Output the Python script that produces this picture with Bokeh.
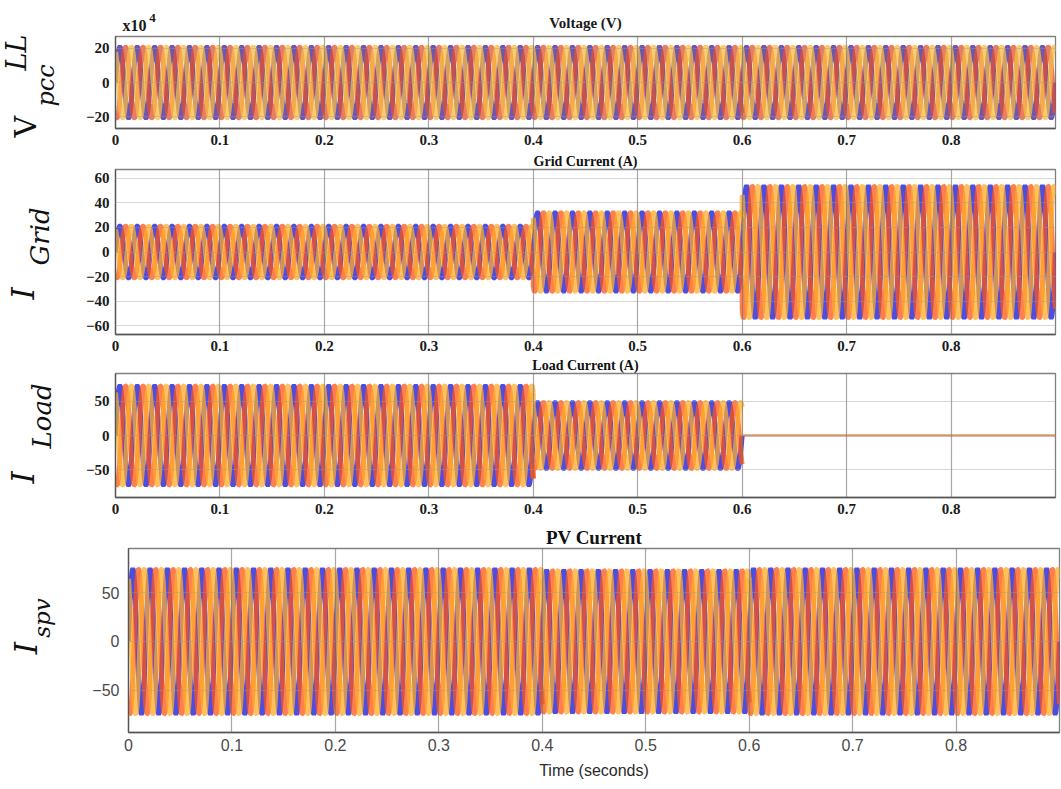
import numpy as np
from bokeh.plotting import figure
from bokeh.layouts import row, column
from bokeh.models import Range1d, FixedTicker, CustomJSTickFormatter, ColumnDataSource
from bokeh.core.properties import value
from bokeh.embed import file_html
from bokeh.resources import INLINE

# ---------------- data ----------------
FREQ_HZ = 60.0                      # supply frequency
T_END = 0.9                         # simulated time (s)
STEP_TIMES = [0.0, 0.4, 0.6, 0.9]   # load switching instants (s)
PHASE_DEG = [0.0, -120.0, 120.0]    # phase a, b, c

# peak value of each phase in each interval between STEP_TIMES
vpcc_amp = [20.8, 20.8, 20.8]       # x10^4 V (line-to-line)
igrid_amp = [21.0, 32.0, 53.5]      # A
iload_amp = [72.0, 48.0, 0.0]       # A
ispv_amp = [74.0, 72.5, 74.0]       # A

x_ticks = [0.0, 0.1, 0.2, 0.3, 0.4, 0.5, 0.6, 0.7, 0.8]
vpcc_ticks = [-20, 0, 20]
igrid_ticks = [-60, -40, -20, 0, 20, 40, 60]
iload_ticks = [-50, 0, 50]
ispv_ticks = [-50, 0, 50]

titles = ["Voltage (V)", "Grid Current (A)", "Load Current (A)", "PV Current"]
x_label = "Time (seconds)"

W, H = 1061, 789
HEAD_H = 34          # strip holding the voltage title and its exponent
LAB_TOP_W = 60       # name column beside the upper three panels
LAB_BOT_W = 73       # name column beside the PV panel
TOP_H = [117, 203, 165]
BOT_H = H - HEAD_H - sum(TOP_H)

SAMPLES_PER_CYCLE = 64
DRAW_ORDER = (0, 1, 2)   # phase a at the bottom, phase c on top


def three_phase(amps, colors):
    """Balanced three-phase waveform, one piece per interval of STEP_TIMES.

    Pieces with zero amplitude are drawn last and thin.
    """
    live, flat = [], []
    w = 2 * np.pi * FREQ_HZ
    for k in DRAW_ORDER:
        phi = np.deg2rad(PHASE_DEG[k])
        for i, amp in enumerate(amps):
            t0, t1 = STEP_TIMES[i], STEP_TIMES[i + 1]
            n = int(round((t1 - t0) * FREQ_HZ * SAMPLES_PER_CYCLE)) + 1
            t = np.linspace(t0, t1, n)
            y = amp * np.sin(w * t + phi)
            if i > 0:   # keep the step at the switching instant
                t = np.concatenate([[t0], t])
                y = np.concatenate([[amps[i - 1] * np.sin(w * t0 + phi)], y])
            if amp > 0:
                live.append((t, y, colors[k], 5.0))
            else:
                flat.append((t, y, colors[k], 1.6))
    pieces = live + flat
    return ColumnDataSource(dict(xs=[a[0] for a in pieces], ys=[a[1] for a in pieces],
                                 color=[a[2] for a in pieces],
                                 width=[a[3] for a in pieces]))


TICK_JS = """
let s;
if (tick == 0) { s = "0"; }
else if (Number.isInteger(tick)) { s = tick.toString(); }
else { s = tick.toFixed(1); }
return s.replace("-", "\\u2212");
"""


def bare(width, height, x0, x1, y0, y1):
    """Axis-less strip used for free text."""
    f = figure(width=width, height=height, x_range=Range1d(x0, x1),
               y_range=Range1d(y0, y1), toolbar_location=None,
               output_backend="svg", min_border=0)
    f.axis.visible = False
    f.grid.visible = False
    f.outline_line_color = None
    f.background_fill_color = "white"
    f.border_fill_color = "white"
    return f


def panel(width, height, top, bottom, left, right, y_lim, y_ticks, amps, colors,
          title=None, title_size="14px", serif=True, x_axis_label=None):
    p = figure(width=width, height=height, x_range=Range1d(0, T_END),
               y_range=Range1d(*y_lim), toolbar_location=None,
               output_backend="svg", title=title,
               min_border_top=top, min_border_bottom=bottom,
               min_border_left=left, min_border_right=right)
    p.background_fill_color = "white"
    p.border_fill_color = "white"
    p.outline_line_color = "#808080"
    p.outline_line_width = 1.3

    p.multi_line("xs", "ys", source=three_phase(amps, colors), line_color="color",
                 line_width="width", line_alpha=0.75)

    fmt = CustomJSTickFormatter(code=TICK_JS)
    p.xaxis.ticker = FixedTicker(ticks=x_ticks)
    p.yaxis.ticker = FixedTicker(ticks=y_ticks)
    p.xaxis.formatter = fmt
    p.yaxis.formatter = fmt
    for ax in (p.xaxis, p.yaxis):
        ax.major_tick_in = 0
        ax.major_tick_out = 0
        ax.minor_tick_line_color = None
        ax.axis_line_color = "#555555"
        ax.axis_line_width = 1.3
    if serif:
        font, size, color, style = "Liberation Serif", "15px", "#1a1a1a", "bold"
        p.xaxis.major_label_standoff = 6
        p.yaxis.major_label_standoff = 6
    else:
        font, size, color, style = "Liberation Sans", "16px", "#4a4a4a", "normal"
        p.xaxis.major_label_standoff = 6
        p.yaxis.major_label_standoff = 9
    for ax in (p.xaxis, p.yaxis):
        ax.major_label_text_font = font
        ax.major_label_text_font_size = size
        ax.major_label_text_color = color
        ax.major_label_text_font_style = style

    if x_axis_label:
        p.xaxis.axis_label = x_axis_label
        p.xaxis.axis_label_text_font = "Liberation Sans"
        p.xaxis.axis_label_text_font_size = "16px"
        p.xaxis.axis_label_text_font_style = "normal"
        p.xaxis.axis_label_text_color = "#2a2a2a"
        p.xaxis.axis_label_standoff = 8

    p.xgrid.grid_line_color = "#6e6e6e"
    p.ygrid.grid_line_color = "#9a9a9a"
    p.xgrid.grid_line_width = 1.2
    p.ygrid.grid_line_width = 1.0
    p.xgrid.level = "overlay"
    p.ygrid.level = "overlay"
    p.xgrid.grid_line_alpha = 0.6
    p.ygrid.grid_line_alpha = 0.4

    if title is not None:
        p.title.align = "center"
        p.title.text_font = "Liberation Serif"
        p.title.text_font_style = "bold"
        p.title.text_font_size = title_size
        p.title.text_color = "#111111"
        p.title.standoff = 1
    return p


PH_COLORS = ["#1212d6", "#ff5414", "#ffac28"]
V_COLORS = ["#3c1f98", "#e4502c", "#f7bb42"]

PW_TOP = W - LAB_TOP_W
PW_BOT = W - LAB_BOT_W
p1 = panel(PW_TOP, TOP_H[0], 2, 23, 55, 6, (-27, 27), vpcc_ticks, vpcc_amp, V_COLORS)
p2 = panel(PW_TOP, TOP_H[1], 17, 20, 55, 6, (-67, 67), igrid_ticks, igrid_amp,
           PH_COLORS, titles[1], "14px")
p3 = panel(PW_TOP, TOP_H[2], 19, 22, 55, 6, (-90, 90), iload_ticks, iload_amp,
           PH_COLORS, titles[2], "14px")
p4 = panel(PW_BOT, BOT_H, 29, 57, 55, 2, (-93, 95), ispv_ticks, ispv_amp,
           PH_COLORS, titles[3], "19px", serif=False, x_axis_label=x_label)

# header strip: voltage title and the x10^4 exponent of its axis
head = bare(W, HEAD_H, 0, W, HEAD_H, 0)
head_src = ColumnDataSource(dict(
    x=[585, 134, 152], y=[22, 25, 17], text=[titles[0], "x10", "4"],
    size=["15px", "16px", "13px"],
))
head.text("x", "y", text="text", source=head_src, text_font=value("Liberation Serif"),
          text_font_size="size", text_font_style="bold", text_color="#1a1a1a",
          text_align="center", text_baseline="middle")


def names(fig, xs, ys, texts, sizes, styles):
    """Rotated quantity names, built from a main letter and its subscript."""
    src = ColumnDataSource(dict(x=xs, y=ys, text=texts, size=sizes, style=styles))
    fig.text("x", "y", text="text", source=src, angle=np.pi / 2,
             text_font=value("DejaVu Serif"), text_font_size="size",
             text_font_style="style", text_color="#111111",
             text_align="left", text_baseline="middle")


lab_top = bare(LAB_TOP_W, sum(TOP_H), 0, LAB_TOP_W, HEAD_H + sum(TOP_H), HEAD_H)
names(lab_top,
      [25, 45.5, 16, 22.5, 39.5, 22.5, 41.5],
      [137, 106, 70, 299, 265, 483, 448],
      ["V", "pcc", "LL", "I", "Grid", "I", "Load"],
      ["30px", "24px", "27px", "31px", "26px", "31px", "26px"],
      ["normal", "italic", "italic", "italic", "italic", "italic", "italic"])

bot_y0 = HEAD_H + sum(TOP_H)
lab_bot = bare(LAB_BOT_W, BOT_H, 0, LAB_BOT_W, H, bot_y0)
names(lab_bot, [25, 41], [674, 650], ["I", "spv"], ["31px", "23px"],
      ["italic", "italic"])

layout = column(
    head,
    row(lab_top, column(p1, p2, p3, spacing=0), spacing=0),
    row(lab_bot, p4, spacing=0),
    spacing=0,
)

open("out.html", "w").write(file_html(layout, INLINE))
